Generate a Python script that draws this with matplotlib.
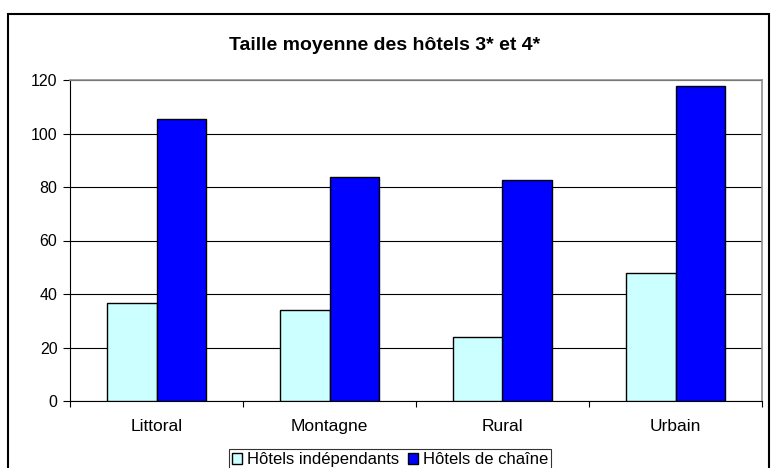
import numpy as np
import matplotlib
matplotlib.use("Agg")
import matplotlib.pyplot as plt
from matplotlib.patches import Rectangle

## Data
categories = ["Littoral", "Montagne", "Rural", "Urbain"]
independants = [36.5, 34.1, 23.9, 48.0]
chaines = [105.3, 83.7, 82.6, 117.9]
series_names = ["Hôtels indépendants", "Hôtels de chaîne"]
yticks = [0, 20, 40, 60, 80, 100, 120]

plt.rcParams['font.family'] = ['Liberation Sans', 'DejaVu Sans']

fig = plt.figure(figsize=(7.71, 4.68), dpi=100)
ax = fig.add_axes([70/771, 67/468, 692/771, 321/468])

x = np.arange(len(categories))
w = 0.289
b1 = ax.bar(x - w/2, independants, w, color='#ccffff', edgecolor='black', linewidth=1, zorder=3, label=series_names[0])
b2 = ax.bar(x + w/2, chaines, w, color='#0000ff', edgecolor='black', linewidth=1, zorder=3, label=series_names[1])

ax.set_xlim(-0.5, len(categories) - 0.5)
ax.set_ylim(0, 120)
ax.set_yticks(yticks)
ax.set_yticklabels([str(t) for t in yticks], fontsize=11.5)
ax.yaxis.grid(True, color='black', linewidth=0.8, zorder=0)

ax.set_xticks(np.arange(len(categories) + 1) - 0.5, minor=False)
ax.set_xticklabels([])
ax.set_xticks(x, minor=True)
ax.set_xticklabels(categories, minor=True, fontsize=12.5)
ax.tick_params(axis='x', which='minor', length=0, pad=13)
ax.tick_params(axis='x', which='major', length=4, direction='out', color='black')
ax.tick_params(axis='y', length=5, direction='out', pad=4)

for s in ['top', 'right']:
    ax.spines[s].set_color('#909090')
    ax.spines[s].set_linewidth(1.2)
ax.spines['left'].set_color('black')
ax.spines['bottom'].set_color('black')

fig.text(385/771, 1 - 45/468, "Taille moyenne des hôtels 3* et 4*", ha='center', va='center',
         fontsize=14, fontweight='bold')

leg = fig.legend(handles=[b1, b2], loc='upper center', bbox_to_anchor=(390/771, 1 - 449/468), ncol=2,
                 fontsize=12, frameon=True, fancybox=False, edgecolor='black',
                 handlelength=0.6, handleheight=0.6, handletextpad=0.3, columnspacing=0.5,
                 borderpad=0.2, borderaxespad=0)
leg.get_frame().set_linewidth(0.8)

## Outer chart border
fig.patches.append(Rectangle((8/771, -0.05), 761/771, 1 - 14/468 + 0.05, transform=fig.transFigure,
                             fill=False, edgecolor='black', linewidth=1.5))

fig.savefig("out.png", dpi=100)
